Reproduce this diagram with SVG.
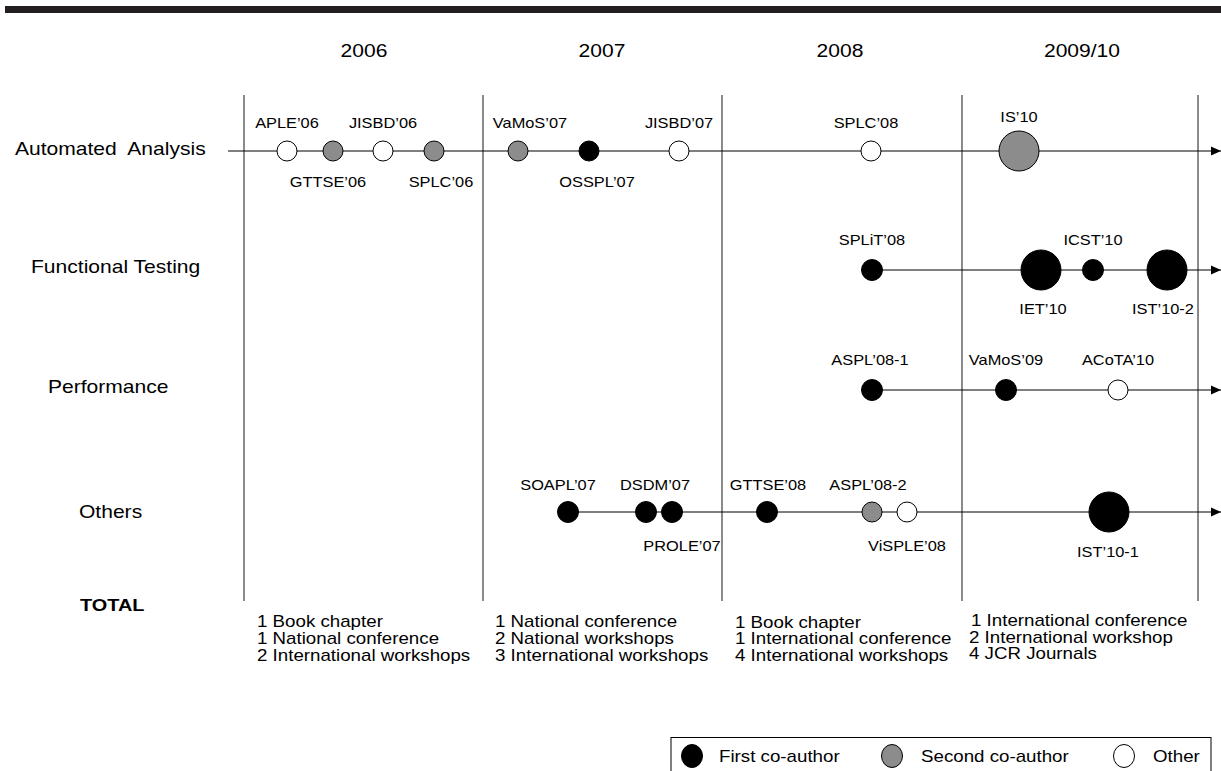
<svg xmlns="http://www.w3.org/2000/svg" width="1221" height="771" viewBox="0 0 1221 771">
  <style>
    text { font-family: "Liberation Sans", Arial, Helvetica, sans-serif; fill: #000; }
    /* text is set slightly wide: stretch each label around its own box */
    .w { transform-box: fill-box; transform: scaleX(1.17); }
    .c { text-anchor: middle; transform-origin: center; }
    .s { text-anchor: start; transform-origin: 0 50%; }
    .year { font-size: 18px; }
    .row { font-size: 18px; }
    .lbl { font-size: 14px; }
    .tot { font-size: 16px; }
    .head { font-size: 17px; font-weight: bold; }
    .leg { font-size: 16px; }
    .divider { stroke: #8a8a8a; stroke-width: 2; }
    .axis { stroke: #000; stroke-width: 1.2; fill: none; marker-end: url(#arrow); }
    .p1 { fill: #000; stroke: #000; stroke-width: 1; }
    .p2 { fill: #8c8c8c; stroke: #000; stroke-width: 1; }
    .p3 { fill: #fff; stroke: #000; stroke-width: 1; }
  </style>
  <defs>
    <marker id="arrow" markerUnits="userSpaceOnUse" markerWidth="10" markerHeight="10" refX="10" refY="5" orient="auto">
      <path d="M0,0.5 L10,5 L0,9.5 Z" fill="#000"/>
    </marker>
  </defs>

  <rect width="1221" height="771" fill="#fff"/>

  <!-- header bar -->
  <rect x="5" y="6" width="1216" height="7" fill="#231f20"/>

  <!-- year columns -->
  <g id="years">
    <text class="w c year" x="364" y="57">2006</text>
    <text class="w c year" x="602" y="57">2007</text>
    <text class="w c year" x="840" y="57">2008</text>
    <text class="w c year" x="1082" y="57">2009/10</text>
  </g>
  <g id="dividers">
    <line class="divider" x1="244" y1="95" x2="244" y2="601"/>
    <line class="divider" x1="483" y1="95" x2="483" y2="601"/>
    <line class="divider" x1="722" y1="95" x2="722" y2="601"/>
    <line class="divider" x1="962" y1="95" x2="962" y2="601"/>
    <line class="divider" x1="1198" y1="95" x2="1198" y2="601"/>
  </g>

  <!-- row headings -->
  <g id="rows">
    <text class="w s row" x="15" y="155">Automated&#160; Analysis</text>
    <text class="w s row" x="31" y="273">Functional Testing</text>
    <text class="w s row" x="48" y="393">Performance</text>
    <text class="w s row" x="79" y="518">Others</text>
    <text class="w s head" x="80" y="611">TOTAL</text>
  </g>

  <!-- timelines -->
  <g id="connectors">
    <line class="axis" x1="228" y1="151" x2="1221" y2="151"/>
    <line class="axis" x1="872" y1="270" x2="1221" y2="270"/>
    <line class="axis" x1="872" y1="390" x2="1221" y2="390"/>
    <line class="axis" x1="568" y1="512" x2="1221" y2="512"/>
  </g>

  <!-- Automated Analysis -->
  <g id="aple06"><circle class="p3" cx="287" cy="151" r="10"/><text class="w c lbl" x="287" y="128">APLE’06</text></g>
  <g id="gttse06"><circle class="p2" cx="333" cy="151" r="10"/><text class="w c lbl" x="328" y="187">GTTSE’06</text></g>
  <g id="jisbd06"><circle class="p3" cx="383" cy="151" r="10"/><text class="w c lbl" x="383" y="128">JISBD’06</text></g>
  <g id="splc06"><circle class="p2" cx="434" cy="151" r="10"/><text class="w c lbl" x="441" y="187">SPLC’06</text></g>
  <g id="vamos07"><circle class="p2" cx="518" cy="151" r="10"/><text class="w c lbl" x="530" y="128">VaMoS’07</text></g>
  <g id="osspl07"><circle class="p1" cx="589" cy="151" r="10"/><text class="w c lbl" x="597" y="187">OSSPL’07</text></g>
  <g id="jisbd07"><circle class="p3" cx="679" cy="151" r="10"/><text class="w c lbl" x="679" y="128">JISBD’07</text></g>
  <g id="splc08"><circle class="p3" cx="871" cy="151" r="10"/><text class="w c lbl" x="866" y="128">SPLC’08</text></g>
  <g id="is10"><circle class="p2" cx="1019" cy="151" r="20"/><text class="w c lbl" x="1019" y="122">IS’10</text></g>

  <!-- Functional Testing -->
  <g id="split08"><circle class="p1" cx="872" cy="270" r="10.5"/><text class="w c lbl" x="872" y="245">SPLiT’08</text></g>
  <g id="iet10"><circle class="p1" cx="1041" cy="270" r="20"/><text class="w c lbl" x="1043" y="314">IET’10</text></g>
  <g id="icst10"><circle class="p1" cx="1093" cy="270" r="10.5"/><text class="w c lbl" x="1093" y="245">ICST’10</text></g>
  <g id="ist10-2"><circle class="p1" cx="1167" cy="270" r="20"/><text class="w c lbl" x="1163" y="314">IST’10-2</text></g>

  <!-- Performance -->
  <g id="aspl08-1"><circle class="p1" cx="872" cy="390" r="10.5"/><text class="w c lbl" x="870" y="365">ASPL’08-1</text></g>
  <g id="vamos09"><circle class="p1" cx="1006" cy="390" r="10.5"/><text class="w c lbl" x="1006" y="365">VaMoS’09</text></g>
  <g id="acota10"><circle class="p3" cx="1118" cy="390" r="10"/><text class="w c lbl" x="1118" y="365">ACoTA’10</text></g>

  <!-- Others -->
  <g id="soapl07"><circle class="p1" cx="568" cy="512" r="10.5"/><text class="w c lbl" x="558" y="490">SOAPL’07</text></g>
  <g id="dsdm07"><circle class="p1" cx="646" cy="512" r="10.5"/><text class="w c lbl" x="655" y="490">DSDM’07</text></g>
  <g id="prole07"><circle class="p1" cx="672" cy="512" r="10.5"/><text class="w c lbl" x="682" y="551">PROLE’07</text></g>
  <g id="gttse08"><circle class="p1" cx="767" cy="512" r="10.5"/><text class="w c lbl" x="768" y="490">GTTSE’08</text></g>
  <g id="aspl08-2"><circle class="p2" cx="872" cy="512" r="10"/><text class="w c lbl" x="868" y="490">ASPL’08-2</text></g>
  <g id="visple08"><circle class="p3" cx="907" cy="512" r="10"/><text class="w c lbl" x="907" y="551">ViSPLE’08</text></g>
  <g id="ist10-1"><circle class="p1" cx="1109" cy="512" r="20"/><text class="w c lbl" x="1108" y="557">IST’10-1</text></g>

  <!-- totals per period -->
  <g id="totals">
    <text class="w s tot" x="257" y="627">1 Book chapter</text>
    <text class="w s tot" x="257" y="644">1 National conference</text>
    <text class="w s tot" x="257" y="661">2 International workshops</text>
    <text class="w s tot" x="495" y="627">1 National conference</text>
    <text class="w s tot" x="495" y="644">2 National workshops</text>
    <text class="w s tot" x="495" y="661">3 International workshops</text>
    <text class="w s tot" x="735" y="628">1 Book chapter</text>
    <text class="w s tot" x="735" y="644">1 International conference</text>
    <text class="w s tot" x="735" y="661">4 International workshops</text>
    <text class="w s tot" x="971" y="626">1 International conference</text>
    <text class="w s tot" x="969" y="643">2 International workshop</text>
    <text class="w s tot" x="969" y="659">4 JCR Journals</text>
  </g>

  <!-- legend -->
  <g id="legend">
    <rect x="671" y="737.5" width="540" height="40" fill="#fff" stroke="#000" stroke-width="1"/>
    <ellipse class="p1" cx="692" cy="756" rx="10.5" ry="11.5"/>
    <text class="w s leg" x="719" y="762">First co-author</text>
    <ellipse class="p2" cx="892" cy="756" rx="10.5" ry="11.5"/>
    <text class="w s leg" x="921" y="762">Second co-author</text>
    <ellipse class="p3" cx="1124" cy="756" rx="10.5" ry="11.5"/>
    <text class="w s leg" x="1153" y="762">Other</text>
  </g>
</svg>
